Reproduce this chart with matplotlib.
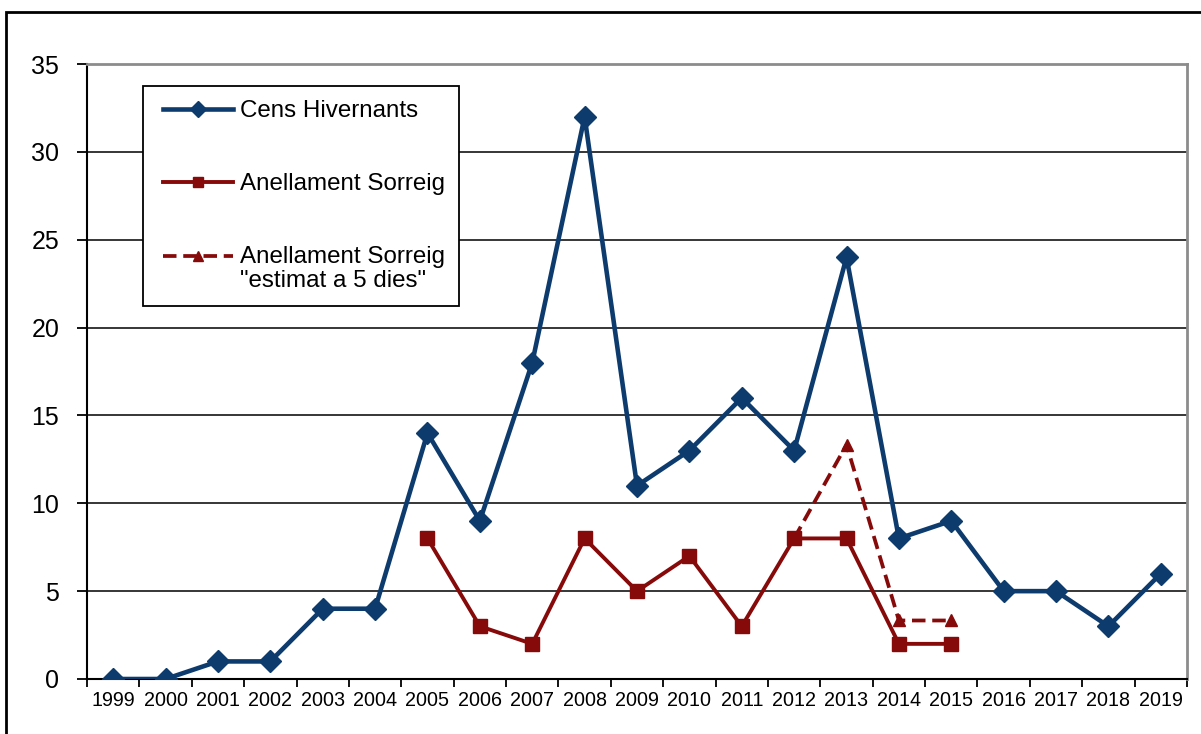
import matplotlib
matplotlib.use("Agg")
import matplotlib.pyplot as plt
import numpy as np
from matplotlib.legend_handler import HandlerLine2D
from matplotlib.patches import Rectangle

years = [str(y) for y in range(1999, 2020)]
cens_hivernants = [0, 0, 1, 1, 4, 4, 14, 9, 18, 32, 11, 13, 16, 13, 24, 8, 9, 5, 5, 3, 6]
anellament = [None, None, None, None, None, None, 8, 3, 2, 8, 5, 7, 3, 8, 8, 2, 2,
              None, None, None, None]
anellament_est = [None] * 13 + [8, 13.33, 3.33, 3.33] + [None] * 4
labels = ["Cens Hivernants", "Anellament Sorreig",
          "Anellament Sorreig\n\"estimat a 5 dies\""]

BLUE = "#0d3b6e"
RED = "#870a0a"

plt.rcParams['font.family'] = ['Liberation Sans', 'DejaVu Sans']

fig = plt.figure(figsize=(12.01, 7.34), dpi=100)
ax = fig.add_axes([87 / 1201, 55 / 734, 1100 / 1201, 615 / 734])

x = np.arange(len(years))


def to_arr(v):
    return np.array([np.nan if a is None else a for a in v], dtype=float)


l1, = ax.plot(x, to_arr(cens_hivernants), color=BLUE, lw=3.3, marker='D',
              ms=10.8, mec=BLUE, mfc=BLUE, zorder=4)
l3, = ax.plot(x, to_arr(anellament_est), color=RED, lw=2.7, ls='--',
              dashes=(3.6, 1.8), marker='^', ms=9, mec=RED, mfc=RED, zorder=3)
l2, = ax.plot(x, to_arr(anellament), color=RED, lw=2.8, marker='s',
              ms=9.5, mec=RED, mfc=RED, zorder=3.5)

ax.set_xlim(-0.5, len(years) - 0.5)
ax.set_ylim(0, 35)
ax.set_yticks(np.arange(0, 36, 5))
ax.set_xticks(x)
ax.set_xticklabels(years)
ax.set_xticks(np.arange(-0.5, len(years), 1), minor=True)
ax.tick_params(axis='x', which='major', length=0, labelsize=14.2, pad=9)
ax.tick_params(axis='x', which='minor', length=6, width=1.3, color='black')
ax.tick_params(axis='y', length=7, width=1.3, labelsize=18, pad=13)

ax.yaxis.grid(True, color='black', lw=1.1)
ax.set_axisbelow(True)
for s in ['left', 'bottom']:
    ax.spines[s].set_color('black')
    ax.spines[s].set_linewidth(1.5)
for s in ['top', 'right']:
    ax.spines[s].set_color('#8c8c8c')
    ax.spines[s].set_linewidth(2)


class ShiftHandler(HandlerLine2D):
    """Legend handle shifted right by dx points and up by dy (in font sizes)."""

    def __init__(self, dy=0.0, dx=0.0, **kw):
        super().__init__(**kw)
        self.dy = dy
        self.dx = dx

    def create_artists(self, legend, orig_handle, xdescent, ydescent,
                       width, height, fontsize, trans):
        return super().create_artists(legend, orig_handle,
                                      xdescent - self.dx,
                                      ydescent - 2 * self.dy * fontsize,
                                      width - self.dx, height, fontsize, trans)


DX = 4.5
leg = ax.legend([l1, l2, l3], labels, loc='upper left',
                bbox_to_anchor=((143 - 87) / 1100, (679 - 86) / 615),
                borderaxespad=0, fontsize=17.4, frameon=True, fancybox=False,
                edgecolor='black', framealpha=1, handlelength=3.15,
                handletextpad=0.3, labelspacing=2.12, borderpad=0.58,
                handler_map={l1: ShiftHandler(0.0, DX, numpoints=1),
                             l2: ShiftHandler(0.0, DX, numpoints=1),
                             l3: ShiftHandler(0.55, DX, numpoints=1)},
                numpoints=1, markerscale=0.8)
leg.get_frame().set_linewidth(1.3)
for t in leg.get_texts():
    t.set_linespacing(1.1)

fig.patches.append(Rectangle((6 / 1201, -0.1), 1.2, (734 - 12) / 734 + 0.1,
                             transform=fig.transFigure, fill=False,
                             edgecolor='black', lw=2))

fig.savefig("out.png", dpi=100)
